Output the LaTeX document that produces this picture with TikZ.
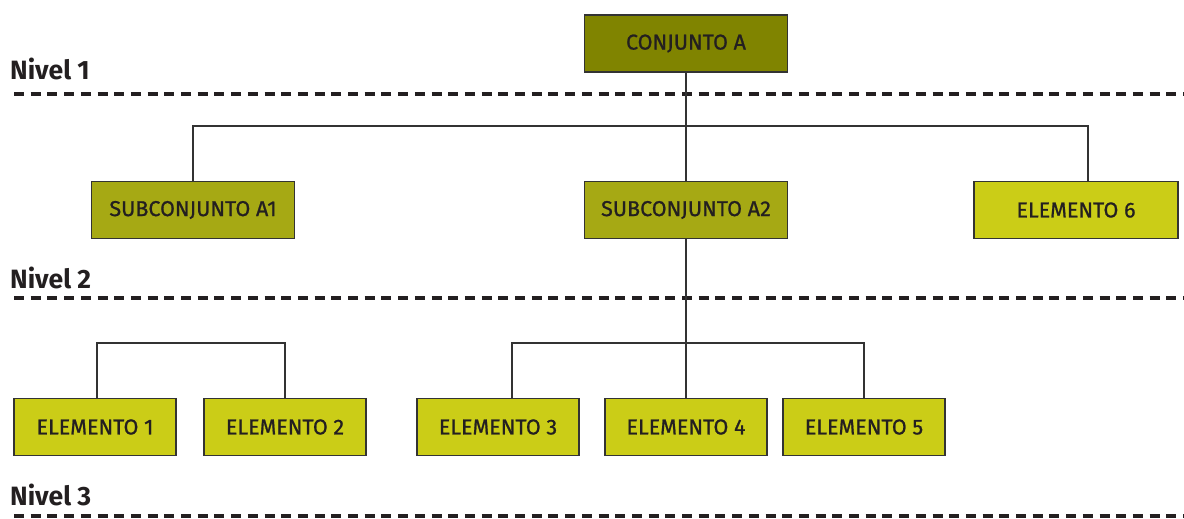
\documentclass[tikz,border=0pt]{standalone}
\usepackage{fontspec}
\setmainfont{Fira Sans}
\newfontfamily\boxfont[FakeBold=0.9]{Fira Sans}
\definecolor{cA}{HTML}{808400}
\definecolor{cSub}{HTML}{A6A914}
\definecolor{cEl}{HTML}{CBCD17}
\definecolor{ink}{HTML}{231F20}
\definecolor{edge}{HTML}{333333}
\tikzset{
  box/.style={draw=edge, line width=1.8pt, inner sep=0pt, text=ink,
    font=\boxfont\fontsize{21.5}{23}\selectfont, minimum height=57pt},
  bigbox/.style={box, minimum width=203pt},
  elbox/.style={box, minimum width=162pt, fill=cEl},
  link/.style={draw=edge, line width=1.6pt},
  levelline/.style={draw=ink, line width=3.2pt, dash pattern=on 10pt off 6.7pt},
  levellabel/.style={anchor=base west, inner sep=0pt, text=ink,
    font=\bfseries\fontsize{26.5}{28}\selectfont}
}
\begin{document}
\begin{tikzpicture}[x=1pt,y=-1pt]
\useasboundingbox (0,0) rectangle (1184,519);
% level labels and lines
\node[levellabel] (n1) at (10,80) {Nivel 1};
\node[levellabel] (n2) at (10,288) {Nivel 2};
\node[levellabel] (n3) at (10,505) {Nivel 3};
\coordinate (d1a) at (14,94);  \coordinate (d1b) at (1184,94);
\coordinate (d2a) at (14,298); \coordinate (d2b) at (1184,298);
\coordinate (d3a) at (14,516); \coordinate (d3b) at (1184,516);
\draw[levelline] (d1a) -- (d1b);
\draw[levelline] (d2a) -- (d2b);
\draw[levelline] (d3a) -- (d3b);
% connector points
\coordinate (bus1) at (686,126);
\coordinate (e6top) at (1088,181.5);
\coordinate (bus2) at (686,343);
\coordinate (e3top) at (512,398.5);
\coordinate (bus3) at (97,343);
% nodes
\node[bigbox, fill=cA] (A) at (686,43.5) {CONJUNTO A};
\node[bigbox, fill=cSub] (A1) at (193,210) {SUBCONJUNTO A1};
\node[bigbox, fill=cSub] (A2) at (686,210) {SUBCONJUNTO A2};
\node[bigbox, fill=cEl, minimum width=204pt] (E6) at (1076,210) {ELEMENTO 6};
\node[elbox] (E1) at (95,427) {ELEMENTO 1};
\node[elbox] (E2) at (285,427) {ELEMENTO 2};
\node[elbox] (E3) at (498,427) {ELEMENTO 3};
\node[elbox] (E4) at (686,427) {ELEMENTO 4};
\node[elbox] (E5) at (864,427) {ELEMENTO 5};
% connectors
\draw[link] (A.south) -- (A2.north);
\draw[link] (A1.north) |- (bus1) -| (e6top);
\draw[link] (A2.south) -- (bus2) -- (E4.north);
\draw[link] (e3top) |- (bus2) -| (E5.north);
\draw[link] (E1.north -| bus3) |- (E2.north |- bus3) -- (E2.north);
\end{tikzpicture}
\end{document}
